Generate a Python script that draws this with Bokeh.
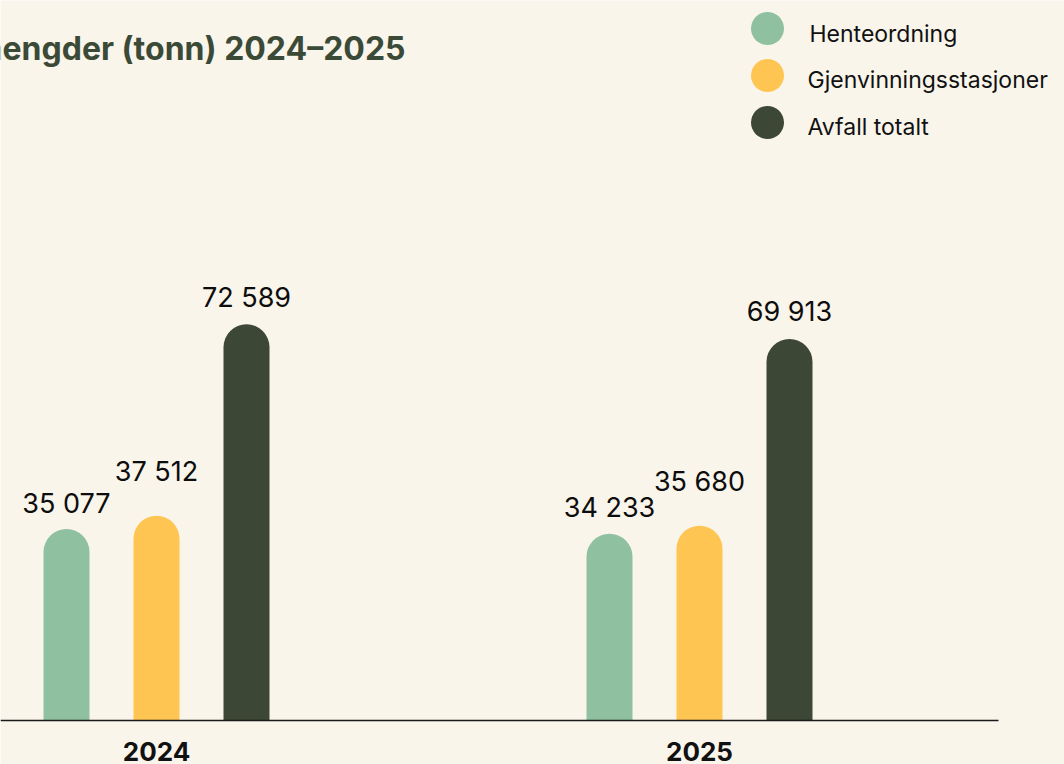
import numpy as np
from bokeh.plotting import figure
from bokeh.models import Range1d, FixedTicker, ColumnDataSource
from bokeh.core.properties import value
from bokeh.embed import file_html
from bokeh.resources import INLINE

# ---- data ----
title_text = "Avfallsmengder (tonn) 2024–2025"
years = [2024, 2025]
series_names = ["Henteordning", "Gjenvinningsstasjoner", "Avfall totalt"]
henteordning = [35077, 34233]
gjenvinningsstasjoner = [37512, 35680]
avfall_totalt = [72589, 69913]

# ---- style ----
colors = ["#8FC1A0", "#FFC552", "#3C4736"]
BG = "#F9F5EB"
TITLE_COLOR = "#3B4A37"
FONT = "Inter"

W, H = 1064, 764
p = figure(width=W, height=H, output_backend="svg", toolbar_location=None,
           x_range=Range1d(2023.7127, 2025.6722),
           y_range=Range1d(-8062, 131916),
           y_axis_location=None, min_border=0,
           background_fill_color=BG, border_fill_color=BG,
           outline_line_color=None)
p.grid.visible = False
p.extra_x_ranges = {"px": Range1d(0, W)}
p.extra_y_ranges = {"px": Range1d(H, 0)}

ax = p.xaxis[0]
ax.fixed_location = 0
ax.bounds = (2023.7127, 2025.5506)
ax.ticker = FixedTicker(ticks=years, minor_ticks=[])
ax.major_tick_out = 0
ax.major_tick_in = 0
ax.minor_tick_out = 0
ax.minor_tick_in = 0
ax.axis_line_color = "#1a1a1a"
ax.axis_line_width = 1.5
ax.major_label_standoff = 22
ax.major_label_text_font = FONT
ax.major_label_text_font_style = "bold"
ax.major_label_text_font_size = "26px"
ax.major_label_text_color = "#111111"

offsets = [-90 / 543, 0, 90 / 543]
bar_w = 46 / 543
label_gap = [26, 44, 27]

for vals, name, col, off, gap in zip([henteordning, gjenvinningsstasjoner, avfall_totalt],
                                     series_names, colors, offsets, label_gap):
    src = ColumnDataSource(dict(
        x=[y + off for y in years],
        top=vals,
        label=[f"{v:,}".replace(",", " ") for v in vals],
    ))
    p.vbar(x="x", top="top", bottom=0, width=bar_w, source=src,
           fill_color=col, line_color=None, border_radius=(23, 23, 0, 0))
    p.text(x="x", y="top", text="label", source=src, y_offset=-gap,
           text_align="center", text_baseline="middle",
           text_font=value(FONT), text_font_size="27px",
           text_font_style="normal", text_color="#0d0d0d")

# legend (pixel coordinates)
p.scatter(x=[767, 767, 767], y=[28, 75, 122], size=33, fill_color=colors,
          line_color=None, x_range_name="px", y_range_name="px")
p.text(x=[809, 807, 807], y=[33, 79, 126], text=series_names,
       text_align="left", text_baseline="middle",
       text_font=value(FONT), text_font_size="23px", text_color="#111111",
       x_range_name="px", y_range_name="px")

# title (cut at the left edge as in the reference)
p.text(x=[405], y=[48], text=[title_text], text_align="right",
       text_baseline="alphabetic", text_font=value(FONT),
       text_font_style="bold", text_font_size="32px", text_color=TITLE_COLOR,
       x_range_name="px", y_range_name="px")

open("out.html", "w").write(file_html(p, INLINE, title="Avfallsmengder"))
